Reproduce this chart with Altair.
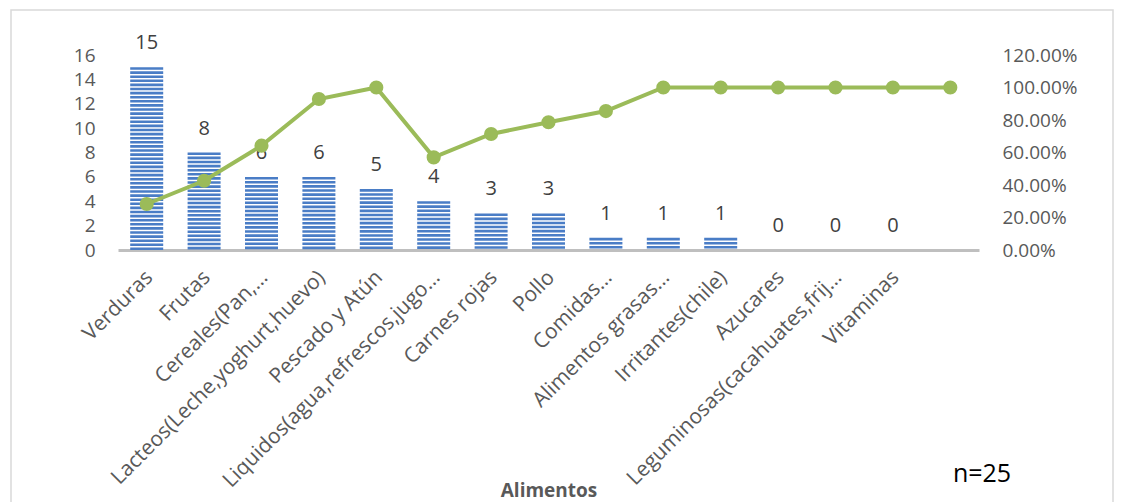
import altair as alt
import pandas as pd

categories = [
    "Verduras", "Frutas", "Cereales(Pan,…", "Lacteos(Leche,yoghurt,huevo)",
    "Pescado y Atún", "Liquidos(agua,refrescos,jugo…", "Carnes rojas", "Pollo",
    "Comidas…", "Alimentos  grasas…", "Irritantes(chile)", "Azucares",
    "Leguminosas(cacahuates,frij…", "Vitaminas", " ",
]
counts = [15, 8, 6, 6, 5, 4, 3, 3, 1, 1, 1, 0, 0, 0, None]
percent = [0.283, 0.426, 0.642, 0.929, 1.0, 0.570, 0.714, 0.786, 0.855,
           1.0, 1.0, 1.0, 1.0, 1.0, 1.0]
left_ticks = [0, 2, 4, 6, 8, 10, 12, 14, 16]
right_ticks = [0, 0.2, 0.4, 0.6, 0.8, 1.0, 1.2]

df = pd.DataFrame({"cat": categories, "n": counts, "pct": percent})
FONT = "Open Sans"
GRAY = "#595959"

xenc = alt.X(
    "cat:N", sort=categories,
    scale=alt.Scale(paddingInner=0.42, paddingOuter=0.21),
    axis=alt.Axis(
        title="Alimentos", labelAngle=-45, labelFontSize=21, labelColor=GRAY,
        labelFont=FONT, ticks=False, domainColor="#BFBFBF", domainWidth=3,
        labelAlign="right", labelBaseline="middle", labelPadding=24,
        labelOffset=3, labelOverlap=False, labelLimit=500,
        titleFont=FONT, titleFontSize=19, titleFontWeight="bold",
        titleColor=GRAY, titleY=240, titleBaseline="middle",
    ),
)

yl = alt.Y("n:Q", scale=alt.Scale(domain=[0, 16], nice=False),
           axis=alt.Axis(title=None, values=left_ticks, grid=False, domain=False,
                         ticks=False, labelFontSize=19, labelColor=GRAY,
                         labelFont=FONT, labelPadding=23, labelOverlap=False))
yr = alt.Y("pct:Q", scale=alt.Scale(domain=[0, 1.2], nice=False),
           axis=alt.Axis(title=None, orient="right", values=right_ticks, format=".2%",
                         grid=False, domain=False, ticks=False, labelFontSize=19,
                         labelColor=GRAY, labelFont=FONT, labelPadding=23,
                         labelOverlap=False))

base = alt.Chart(df)

bars = base.transform_filter("isValid(datum.n)").mark_rule(
    strokeWidth=33, strokeDash=[2.6, 1.5], color="#4A7DC6"
).encode(x=xenc, y=yl, y2=alt.datum(0))

labels = base.transform_filter("isValid(datum.n)").mark_text(
    dy=-18, baseline="alphabetic", fontSize=20, color="#404040", font=FONT
).encode(x=xenc, y=yl, text=alt.Text("n:Q"))

one = pd.DataFrame({"a": [0]})
border = alt.Chart(one).mark_rect(fill=None, stroke="#D9D9D9", strokeWidth=1.5).encode(
    x=alt.value(-107), x2=alt.value(995), y=alt.value(-45), y2=alt.value(460)
)
note = alt.Chart(one).mark_text(fontSize=25, color="#000000", font=FONT).encode(
    x=alt.value(864), y=alt.value(419), text=alt.value("n=25")
)

left = alt.layer(border, bars, labels, note)

line = base.mark_line(color="#9BBB59", strokeWidth=4).encode(x=xenc, y=yr)
pts = base.mark_point(filled=True, color="#9BBB59", size=200, opacity=1).encode(
    x=xenc, y=yr)
right = alt.layer(line, pts)

chart = alt.layer(left, right).resolve_scale(y="independent").properties(
    width=861, height=195, autosize="none",
    padding={"left": 118, "top": 55, "right": 143, "bottom": 252},
    background="white",
).configure_view(stroke=None)

chart.save("out.html", embed_options={"renderer": "svg", "actions": False})
